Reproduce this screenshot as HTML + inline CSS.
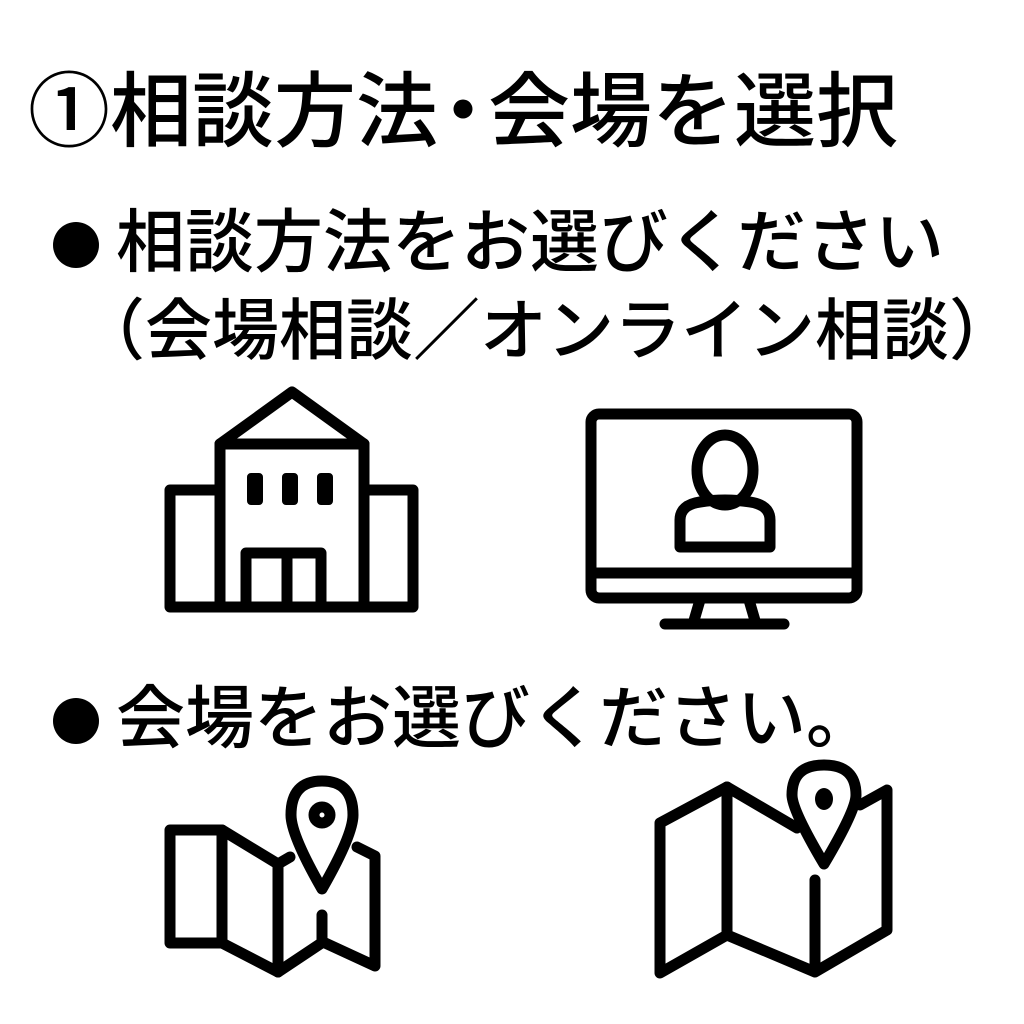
<!DOCTYPE html>
<html><head><meta charset="utf-8"><style>
body{margin:0;width:1024px;height:1024px;background:#fff;overflow:hidden;position:relative;font-family:"Liberation Sans","Noto Sans CJK JP",sans-serif;color:#000}
.t{position:absolute;white-space:nowrap;font-weight:500;line-height:1}
.b{position:absolute;width:46px;height:46px;border-radius:50%;background:#000}
</style></head><body>
<div class="t" style="left:28px;top:72px;font-size:82px;">①相談方法<span style="display:inline-block;margin:0 -16px">・</span>会場を選択</div>
<div class="b" style="left:53px;top:222px"></div>
<div class="t" style="left:116px;top:208px;font-size:69px;">相談方法をお選びください</div>
<div class="t" style="left:78px;top:298px;font-size:67px;">（会場相談／オンライン相談）</div>
<div class="b" style="left:53px;top:698px"></div>
<div class="t" style="left:116px;top:684px;font-size:69px;">会場をお選びください。</div>
<svg width="1024" height="1024" style="position:absolute;left:0;top:0" fill="none" stroke="#000" stroke-width="11" stroke-linejoin="round" stroke-linecap="round">
<!-- building -->
<polyline points="220,490 170,490 170,607 413,607 413,490 364,490"/>
<rect x="220" y="444" width="144" height="163"/>
<polygon points="220,444 292,392 364,444"/>
<rect x="248" y="474" width="14" height="30" rx="3" fill="#000" stroke-width="2"/>
<rect x="283" y="474" width="14" height="30" rx="3" fill="#000" stroke-width="2"/>
<rect x="318" y="474" width="14" height="30" rx="3" fill="#000" stroke-width="2"/>
<rect x="246" y="553" width="75" height="54"/>
<line x1="287" y1="553" x2="287" y2="607"/>
<!-- monitor -->
<rect x="591" y="414" width="266" height="184" rx="8"/>
<line x1="591" y1="573" x2="857" y2="573"/>
<line x1="700" y1="600" x2="693" y2="624"/>
<line x1="749" y1="600" x2="756" y2="624"/>
<line x1="665" y1="624" x2="784" y2="624"/>
<ellipse cx="725" cy="470" rx="28" ry="35"/>
<path d="M680 547 V520 Q680 505 700 502 Q712 500 725 500 Q738 500 750 502 Q770 505 770 520 V547 Z"/>
<!-- left map -->
<rect x="170" y="830" width="52" height="113"/>
<polyline points="222,830 278,864 290,857"/>
<polyline points="357,847 375,856 375,966 323,942 278,972 222,943"/>
<line x1="278" y1="864" x2="278" y2="972"/>
<line x1="322" y1="915" x2="322" y2="942"/>
<path d="M322 889 Q291 835 291 815 Q291 781 322 781 Q353 781 353 815 Q353 835 322 889 Z"/>
<circle cx="322" cy="815" r="8"/>
<!-- right map -->
<polyline points="797,828 727,787 660,823 660,973 727,935 815,972 887,930 887,790 860,805"/>
<line x1="727" y1="787" x2="727" y2="935"/>
<line x1="815" y1="880" x2="815" y2="970"/>
<path d="M824 864 Q792 810 792 795 Q792 765 824 765 Q856 765 856 795 Q856 810 824 864 Z"/>
<ellipse cx="824" cy="799" rx="9" ry="11" fill="#000" stroke="none"/>
</svg>
</body></html>
